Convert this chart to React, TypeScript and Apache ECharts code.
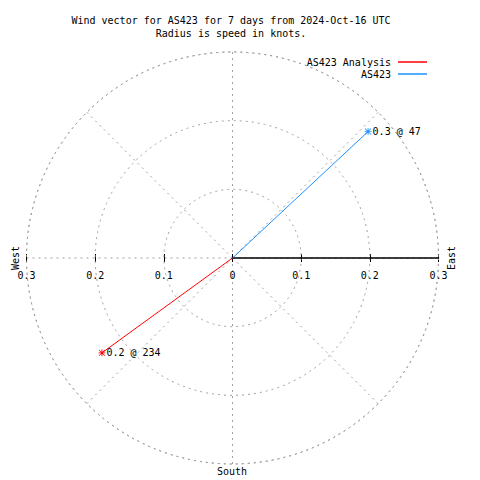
import React, { useEffect, useRef } from "react";
import * as echarts from "echarts";

const TITLE_LINES = [
  "Wind vector for AS423 for 7 days from 2024-Oct-16 UTC",
  "Radius is speed in knots.",
];
const SERIES_NAMES = ["AS423 Analysis", "AS423"];
const SPEEDS = [0.235, 0.27]; // knots
const DIRECTIONS = [234, 47]; // degrees, compass
const RADIUS_MAX = 0.3;
const RADIUS_STEP = 0.1;
const ANGLE_STEP = 45;
const COMPASS_LABELS = { west: "West", east: "East", south: "South" };

const COLORS = ["#ff0000", "#1e90ff"];
const GRID_GRAY = "#a0a0a0";
const FONT = "DejaVu Sans Mono";

const CX = 232.5;
const CY = 258;
const R = 206;

const STAR =
  "path://M0 4.4H10V5.6H0Z M4.4 0H5.6V10H4.4Z M1.2 0.4L9.6 8.8L8.8 9.6L0.4 1.2Z M8.8 0.4L9.6 1.2L1.2 9.6L0.4 8.8Z";

const fmtAbs = (v: number) => (Math.abs(v) < 1e-9 ? "0" : Math.abs(v).toFixed(1));

export default function App() {
  const ref = useRef<HTMLDivElement>(null);
  useEffect(() => {
    document.body.style.margin = "0";
    const chart = echarts.init(ref.current!, null, { renderer: "svg" });
    const toAxisAngle = (c: number) => (c - 90 + 360) % 360;

    const series: any[] = SERIES_NAMES.map((name, i) => ({
      name,
      type: "line",
      coordinateSystem: "polar",
      color: COLORS[i],
      lineStyle: { color: COLORS[i], width: 1 },
      itemStyle: { color: COLORS[i] },
      symbol: STAR,
      symbolSize: 7,
      z: 5,
      data: [
        { value: [0, toAxisAngle(DIRECTIONS[i])], symbol: "none", label: { show: false } },
        {
          value: [SPEEDS[i], toAxisAngle(DIRECTIONS[i])],
          label: {
            show: true,
            position: "right",
            distance: 1,
            formatter: () => `${SPEEDS[i].toFixed(1)} @ ${DIRECTIONS[i]}`,
            fontFamily: FONT,
            fontSize: 10,
            color: "#000",
          },
        },
      ],
    }));

    // upper half-plane box: its bottom edge is the west-east line through the centre
    const gridBox = { left: CX - R, top: CY - R, width: 2 * R, height: R };
    const xBase = {
      type: "value",
      position: "bottom",
      min: -RADIUS_MAX,
      max: RADIUS_MAX,
      interval: RADIUS_STEP,
      splitLine: { show: false },
      axisLine: { show: false, onZero: false },
    };

    chart.setOption({
      animation: false,
      polar: { center: [CX, CY], radius: R },
      angleAxis: {
        type: "value",
        min: 0,
        max: 360,
        interval: ANGLE_STEP,
        startAngle: 0,
        clockwise: true,
        axisLine: { show: true, lineStyle: { color: GRID_GRAY, type: [2, 4], width: 1 } },
        axisTick: { show: false },
        axisLabel: { show: false },
        splitLine: { show: true, lineStyle: { color: GRID_GRAY, type: [2, 4], width: 1 } },
      },
      radiusAxis: {
        type: "value",
        min: 0,
        max: RADIUS_MAX,
        interval: RADIUS_STEP,
        axisLine: { show: true, lineStyle: { color: "#000", width: 1.5 } },
        axisTick: { show: false },
        axisLabel: { show: false },
        splitLine: { show: true, lineStyle: { color: GRID_GRAY, type: [2, 4], width: 1 } },
        z: 4,
      },
      grid: [{ ...gridBox }, { ...gridBox }],
      xAxis: [
        {
          ...xBase,
          gridIndex: 0,
          axisTick: { show: true, inside: true, length: 4, lineStyle: { color: "#000" } },
          axisLabel: {
            margin: 12,
            fontFamily: FONT,
            fontSize: 10,
            color: "#000",
            formatter: (v: number) => fmtAbs(v),
          },
        },
        {
          ...xBase,
          gridIndex: 1,
          axisTick: { show: true, inside: false, length: 4, lineStyle: { color: "#000" } },
          axisLabel: { show: false },
        },
      ],
      yAxis: [
        { type: "value", gridIndex: 0, min: 0, max: RADIUS_MAX, show: false },
        { type: "value", gridIndex: 1, min: 0, max: RADIUS_MAX, show: false },
      ],
      legend: SERIES_NAMES.map((name, i) => ({
        data: [name],
        orient: "vertical",
        right: 53,
        top: 57 + i * 12,
        align: "right",
        icon: "rect",
        itemWidth: 29,
        itemHeight: 1.5,
        padding: 0,
        textStyle: { fontFamily: FONT, fontSize: 10, color: "#000", padding: [0, 2, 0, 0] },
        selectedMode: false,
      })),
      graphic: [
        ...TITLE_LINES.map((t, i) => ({
          type: "text",
          x: 231,
          y: 20 + i * 13,
          style: { text: t, font: `10px "${FONT}"`, fill: "#000", textAlign: "center", textVerticalAlign: "middle" },
        })),
        {
          type: "text",
          x: 15,
          y: 258,
          rotation: Math.PI / 2,
          style: { text: COMPASS_LABELS.west, font: `10px "${FONT}"`, fill: "#000", textAlign: "center", textVerticalAlign: "middle" },
        },
        {
          type: "text",
          x: 451,
          y: 258,
          rotation: Math.PI / 2,
          style: { text: COMPASS_LABELS.east, font: `10px "${FONT}"`, fill: "#000", textAlign: "center", textVerticalAlign: "middle" },
        },
        {
          type: "text",
          x: 232,
          y: 471,
          style: { text: COMPASS_LABELS.south, font: `10px "${FONT}"`, fill: "#000", textAlign: "center", textVerticalAlign: "middle" },
        },
      ],
      series,
    });
    return () => chart.dispose();
  }, []);
  return <div ref={ref} style={{ width: 480, height: 480 }} />;
}
